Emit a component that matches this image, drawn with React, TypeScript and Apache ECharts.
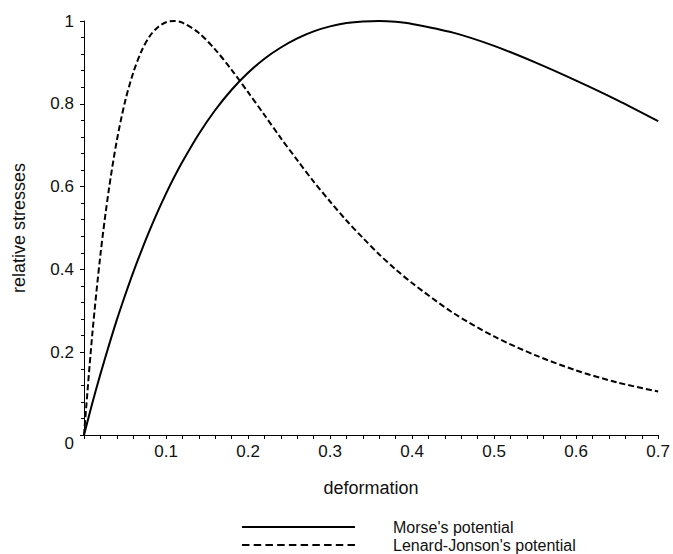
import React, { useEffect, useRef } from "react";
import * as echarts from "echarts";

const deformation = [0, 0.01, 0.02, 0.03, 0.04, 0.05, 0.06, 0.07, 0.08, 0.09, 0.1, 0.11, 0.12, 0.14, 0.16, 0.18, 0.2, 0.22, 0.24, 0.26, 0.28, 0.3, 0.32, 0.34, 0.36, 0.38, 0.4, 0.45, 0.5, 0.55, 0.6, 0.65, 0.7];
const morse = [0, 0.076, 0.147, 0.214, 0.278, 0.337, 0.393, 0.445, 0.494, 0.54, 0.583, 0.623, 0.66, 0.727, 0.785, 0.834, 0.875, 0.909, 0.936, 0.958, 0.975, 0.987, 0.995, 0.999, 1.0, 0.998, 0.993, 0.972, 0.94, 0.9, 0.856, 0.809, 0.758];
const lennardJones = [0, 0.241, 0.435, 0.589, 0.711, 0.805, 0.875, 0.927, 0.963, 0.985, 0.997, 1.0, 0.996, 0.971, 0.931, 0.882, 0.828, 0.773, 0.717, 0.664, 0.612, 0.564, 0.518, 0.476, 0.436, 0.4, 0.367, 0.295, 0.238, 0.193, 0.156, 0.127, 0.105];
const seriesNames = ["Morse's potential", "Lenard-Jonson's potential"];

const FONT = "'Liberation Sans', Arial, sans-serif";
const INK = "#111";

const SOLID_ICON = "path://M0,0h113v2h-113z";
const DASH_ICON =
  "path://" +
  [0, 11, 22, 33, 44, 55, 66, 77, 88, 99].map((x) => `M${x},0h7v2h-7z`).join("") +
  "M106,0h0v2h0z";

export default function App() {
  const ref = useRef<HTMLDivElement>(null);
  useEffect(() => {
    if (!ref.current) return;
    const chart = echarts.init(ref.current, undefined, { renderer: "svg" });
    const pairs = (ys: number[]) => deformation.map((x, i) => [x, ys[i]]);
    const legendBase = {
      orient: "horizontal",
      left: 242,
      itemWidth: 113,
      itemHeight: 14,
      padding: 0,
      selectedMode: false,
      textStyle: { fontFamily: FONT, fontSize: 16, lineHeight: 16, color: INK, padding: [0, 0, 0, 33] },
    };
    chart.setOption({
      animation: false,
      backgroundColor: "#fff",
      textStyle: { fontFamily: FONT, color: INK },
      grid: { left: 84, top: 21, right: 11, bottom: 119 },
      legend: [
        { ...legendBase, top: 519, data: [{ name: seriesNames[0], icon: SOLID_ICON }] },
        { ...legendBase, top: 537, data: [{ name: seriesNames[1], icon: DASH_ICON }] },
      ],
      xAxis: {
        type: "value",
        min: 0,
        max: 0.7,
        interval: 0.1,
        name: "deformation",
        nameLocation: "middle",
        nameGap: 44,
        nameTextStyle: { fontFamily: FONT, fontSize: 18, color: INK },
        axisLine: { show: true, lineStyle: { color: "#000", width: 1 } },
        axisTick: { show: true, length: 4, lineStyle: { color: "#000" } },
        minorTick: { show: true, splitNumber: 5, length: 4, lineStyle: { color: "#000" } },
        splitLine: { show: false },
        axisLabel: {
          fontFamily: FONT,
          fontSize: 17,
          color: INK,
          margin: 8,
          formatter: (v: number) => (v === 0 ? "" : String(Number(v.toFixed(1)))),
        },
      },
      yAxis: {
        type: "value",
        min: 0,
        max: 1,
        interval: 0.2,
        name: "relative stresses",
        nameLocation: "middle",
        nameGap: 56,
        nameTextStyle: { fontFamily: FONT, fontSize: 18, color: INK },
        axisLine: { show: true, lineStyle: { color: "#000", width: 1 } },
        axisTick: { show: true, length: 4, lineStyle: { color: "#000" } },
        minorTick: { show: true, splitNumber: 5, length: 3, lineStyle: { color: "#000" } },
        splitLine: { show: false },
        axisLabel: {
          fontFamily: FONT,
          fontSize: 17,
          color: INK,
          margin: 10,
          formatter: (v: number) => (v === 0 ? "{z|0}" : String(Number(v.toFixed(1)))),
          rich: { z: { fontFamily: FONT, fontSize: 17, color: INK, padding: [16, 0, 0, 0] } },
        },
      },
      series: [
        {
          name: seriesNames[0],
          type: "line",
          data: pairs(morse),
          showSymbol: false,
          symbol: "none",
          smooth: 0.3,
          lineStyle: { color: "#000", width: 2, type: "solid" },
          itemStyle: { color: "#000" },
        },
        {
          name: seriesNames[1],
          type: "line",
          data: pairs(lennardJones),
          showSymbol: false,
          symbol: "none",
          smooth: 0.3,
          lineStyle: { color: "#000", width: 2, type: [6, 3] },
          itemStyle: { color: "#000" },
        },
      ],
    });
    return () => chart.dispose();
  }, []);
  return (
    <div
      ref={ref}
      style={{ position: "fixed", left: 0, top: 0, width: 673, height: 554, background: "#fff" }}
    />
  );
}
